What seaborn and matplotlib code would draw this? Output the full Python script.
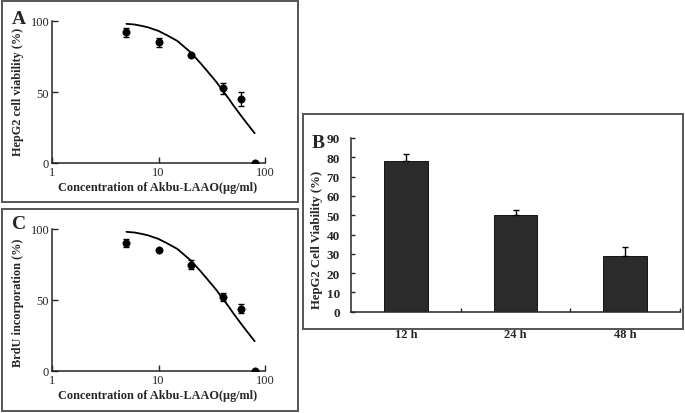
import numpy as np
import pandas as pd
import matplotlib.pyplot as plt
import seaborn as sns
from matplotlib.patches import Rectangle
from matplotlib.ticker import FixedLocator, NullLocator

# dose-response data (A: cell viability, C: BrdU incorporation)
conc = [5, 10, 20, 40, 60, 80]
viability = [92, 85, 76, 52.5, 45, 0]
viability_err = [3, 3, 1, 4, 5, 0]
brdu = [90, 85, 75, 52, 44, 0]
brdu_err = [3, 0, 3, 3, 3, 0]

# fitted curve
curve_x = [5, 6, 7, 8, 10, 12, 15, 20, 25, 30, 35, 40, 45, 50, 60, 70, 80]
curve_y = [98, 97.5, 96.5, 95.5, 93, 90, 86, 78, 70, 63, 57, 51, 46, 41, 33, 26.5, 21]

# time course (B)
times = ['12 h', '24 h', '48 h']
cell_viab = [78, 50, 29]
cell_viab_err = [3.5, 2.8, 4.3]

sns.set_style('ticks')
plt.rcParams['font.family'] = ['Liberation Serif', 'DejaVu Serif']

W, H = 685, 414
fig = plt.figure(figsize=(W / 100, H / 100), dpi=100)


def fx(px):
    return px / W


def fy(py):
    return 1 - py / H


# panel frames
for (x0, y0, x1, y1) in [(2, 2, 298, 203), (2, 210, 298, 412), (303, 115, 683, 330)]:
    fig.patches.append(Rectangle((fx(x0), fy(y1)), fx(x1 - x0), (y1 - y0) / H,
                                 transform=fig.transFigure, fill=False,
                                 edgecolor='#555555', linewidth=1.4))


def dose_panel(rect, values, errs, ylabel, letter, letter_xy, ylab_y, xlab_y):
    ax = fig.add_axes(rect)
    sns.lineplot(x=curve_x, y=curve_y, ax=ax, color='black', linewidth=1.3)
    ax.errorbar(conc, values, yerr=errs, fmt='none', ecolor='black',
                elinewidth=1.0, capsize=2.5, capthick=1.0)
    sns.scatterplot(x=conc, y=values, ax=ax, color='black', s=28,
                    edgecolor='black', zorder=5)
    ax.set_xscale('log')
    ax.set_xlim(1, 100)
    ax.set_ylim(0, 100)
    ax.xaxis.set_major_locator(FixedLocator([1, 10, 100]))
    ax.xaxis.set_minor_locator(NullLocator())
    ax.set_xticklabels(['1', '10', '100'])
    ax.set_yticks([0, 50, 100])
    ax.tick_params(direction='in', length=4, width=1, labelsize=9, pad=2)
    for s in ['top', 'right']:
        ax.spines[s].set_visible(False)
    for s in ['left', 'bottom']:
        ax.spines[s].set_linewidth(1.1)
    ax.set_xlabel('')
    ax.set_ylabel('')
    fig.text(fx(158), fy(xlab_y), 'Concentration of Akbu-LAAO(μg/ml)',
             fontsize=8.8, fontweight='bold', ha='center', va='center')
    fig.text(fx(18.5), fy(ylab_y), ylabel, fontsize=8.8, fontweight='bold',
             rotation=90, ha='center', va='center')
    fig.text(fx(letter_xy[0]), fy(letter_xy[1]), letter, fontsize=14,
             fontweight='bold', ha='center', va='center')
    return ax


dose_panel([fx(52), fy(164), fx(265 - 52), (164 - 22) / H], viability,
           viability_err, 'HepG2 cell viability (%)', 'A', (19, 19), 92, 188)
dose_panel([fx(52), fy(372), fx(265 - 52), (372 - 230) / H], brdu,
           brdu_err, 'BrdU incorporation (%)', 'C', (19, 225), 303, 396)

# panel B bar chart
axb = fig.add_axes([fx(351), fy(312.7), fx(680 - 351), (312.7 - 139) / H])
df = pd.DataFrame({'time': times, 'viab': cell_viab})
sns.barplot(data=df, x='time', y='viab', ax=axb, color='#2b2b2b',
            saturation=1, width=0.4, edgecolor='black', linewidth=0.6,
            errorbar=None)
axb.errorbar(range(len(times)), cell_viab,
             yerr=[[0] * len(times), cell_viab_err], fmt='none',
             ecolor='black', elinewidth=1.0, capsize=2.5, capthick=1.0)
axb.set_xlim(-0.5, 2.5)
axb.set_ylim(0, 90)
axb.set_yticks(range(0, 91, 10))
axb.xaxis.set_minor_locator(FixedLocator([0.5, 1.5, 2.5]))
axb.tick_params(axis='x', which='major', length=0, pad=12, labelsize=9)
axb.tick_params(axis='x', which='minor', direction='in', length=3, width=1)
axb.tick_params(axis='y', direction='in', length=3, width=1, labelsize=9.5, pad=8)
for lab in axb.get_xticklabels() + axb.get_yticklabels():
    lab.set_fontweight('bold')
for s in ['top', 'right']:
    axb.spines[s].set_visible(False)
for s in ['left', 'bottom']:
    axb.spines[s].set_linewidth(1.1)
axb.set_xlabel('')
axb.set_ylabel('')
fig.text(fx(317), fy(240), 'HepG2 Cell Viability (%)', fontsize=9.2,
         fontweight='bold', rotation=90, ha='center', va='center')
fig.text(fx(318), fy(144), 'B', fontsize=14, fontweight='bold',
         ha='center', va='center')

fig.savefig('out.png', dpi=100)
